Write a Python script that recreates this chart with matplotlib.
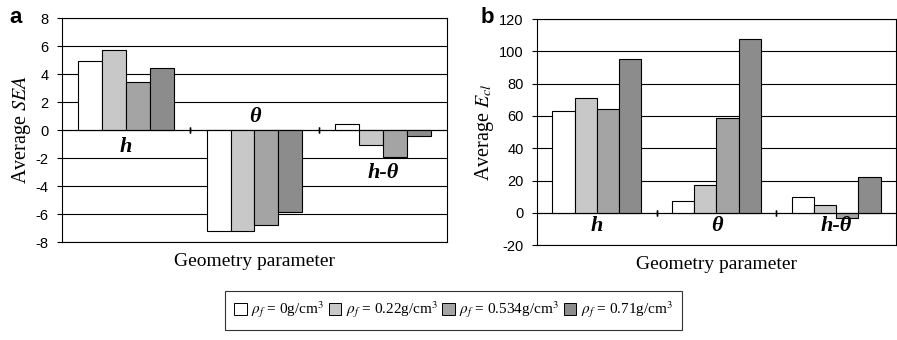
import numpy as np
import matplotlib
matplotlib.use('Agg')
import matplotlib.pyplot as plt
from matplotlib.patches import Patch

plt.rcParams['mathtext.fontset'] = 'stix'

# dane
kategorie = ['h', 'θ', 'h-θ']
serie = [r'$\rho_f$ = 0g/cm$^3$', r'$\rho_f$ = 0.22g/cm$^3$',
         r'$\rho_f$ = 0.534g/cm$^3$', r'$\rho_f$ = 0.71g/cm$^3$']
kolory = ['#ffffff', '#c8c8c8', '#a4a4a4', '#8c8c8c']

sea_0 = [4.9, -7.2, 0.4]
sea_022 = [5.7, -7.2, -1.1]
sea_0534 = [3.45, -6.8, -1.95]
sea_071 = [4.4, -5.85, -0.4]

ecl_0 = [63, 7.5, 10]
ecl_022 = [71, 17, 5]
ecl_0534 = [64, 59, -3.5]
ecl_071 = [95, 107.5, 22]

sea_ticks = [-8, -6, -4, -2, 0, 2, 4, 6, 8]
ecl_ticks = [-20, 0, 20, 40, 60, 80, 100, 120]

# pozycje etykiet kategorii (wartosc y)
sea_etykiety_y = [-1.2, 0.9, -3.1]
ecl_etykiety_y = [-8, -8, -8]

serif = 'Liberation Serif'
sans = 'Liberation Sans'

fig = plt.figure(figsize=(8.97, 3.40), dpi=100)
ax_a = fig.add_axes([0.0691, 0.288, 0.4292, 0.659])
ax_b = fig.add_axes([0.5987, 0.279, 0.400, 0.665])


def rysuj(ax, dane, ticks, etykiety_y):
    x = np.arange(len(kategorie))
    w = 0.186
    for i, (vals, kol) in enumerate(zip(dane, kolory)):
        ax.bar(x + (i - 1.5) * w, vals, w, color=kol, edgecolor='black',
               linewidth=0.8, zorder=3)
    ax.set_xlim(-0.5, len(kategorie) - 0.5)
    ax.set_ylim(ticks[0], ticks[-1])
    ax.set_yticks(ticks)
    ax.set_yticklabels([str(t) for t in ticks], fontfamily=sans, fontsize=10.5)
    ax.yaxis.grid(True, color='black', linewidth=0.8, zorder=0)
    ax.set_xticks([])
    ax.axhline(0, color='black', linewidth=0.8, zorder=4)
    # znaczniki miedzy kategoriami
    for g in [0.5, 1.5]:
        ax.plot([g, g], [0, 0], marker='|', color='black', markersize=4, zorder=4)
    for xi, (k, yy) in enumerate(zip(kategorie, etykiety_y)):
        ax.text(xi, yy, k, ha='center', va='center', fontfamily=serif,
                style='italic', weight='bold', fontsize=16, zorder=5)
    ax.tick_params(axis='y', length=3.5, width=0.8, pad=6)
    for s in ax.spines.values():
        s.set_linewidth(0.8)
    ax.set_xlabel('Geometry parameter', fontfamily=serif, fontsize=14, labelpad=8)


rysuj(ax_a, [sea_0, sea_022, sea_0534, sea_071], sea_ticks, sea_etykiety_y)
rysuj(ax_b, [ecl_0, ecl_022, ecl_0534, ecl_071], ecl_ticks, ecl_etykiety_y)

ax_a.set_ylabel(r'Average $SEA$', fontfamily=serif, fontsize=14.5, labelpad=2)
ax_b.set_ylabel(r'Average $E_{cl}$', fontfamily=serif, fontsize=14.5, labelpad=2)

fig.text(0.011, 0.948, 'a', fontfamily=sans, weight='bold', fontsize=16, va='center')
fig.text(0.536, 0.948, 'b', fontfamily=sans, weight='bold', fontsize=16, va='center')

uchwyty = [Patch(facecolor=k, edgecolor='black', linewidth=0.7) for k in kolory]
leg = fig.legend(uchwyty, serie, loc='center', bbox_to_anchor=(0.5056, 0.088),
                 ncol=4, frameon=True, fancybox=False, edgecolor='black',
                 handlelength=0.8, handleheight=0.8, handletextpad=0.3,
                 columnspacing=0.3, borderpad=0.6,
                 prop={'family': serif, 'size': 11})
leg.get_frame().set_linewidth(0.8)

plt.savefig('out.png', dpi=100)
